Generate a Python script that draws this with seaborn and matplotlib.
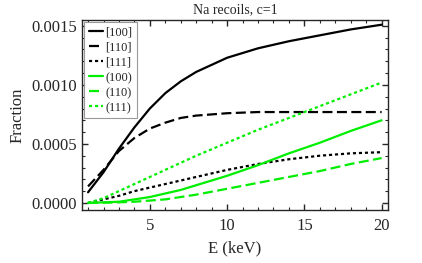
import matplotlib
matplotlib.use("Agg")
import matplotlib.pyplot as plt
import seaborn as sns
import pandas as pd
from matplotlib.ticker import MultipleLocator

# energies (keV) and fractions
energy = [1, 2, 3, 4, 5, 6, 7, 8, 10, 12, 14, 16, 18, 20]
na_100 = [0.00009, 0.00026, 0.00046, 0.00064, 0.00080, 0.00093, 0.00103, 0.00111, 0.00123, 0.00131, 0.00137, 0.00142, 0.00147, 0.00151]
na_110 = [0.00014, 0.00028, 0.00044, 0.00055, 0.00063, 0.00068, 0.00072, 0.00074, 0.00076, 0.00077, 0.00077, 0.00077, 0.00077, 0.00077]
na_111 = [0.0, 0.00003, 0.00006, 0.00010, 0.00013, 0.00016, 0.00019, 0.00022, 0.00028, 0.00033, 0.00037, 0.00040, 0.00042, 0.00043]
pl_100 = [0.0, 0.000005, 0.00001, 0.00003, 0.00005, 0.00008, 0.00011, 0.00015, 0.00023, 0.00032, 0.00042, 0.00051, 0.00061, 0.00070]
pl_110 = [0.0, 0.000002, 0.000005, 0.00001, 0.00002, 0.00003, 0.00005, 0.00007, 0.00012, 0.00017, 0.00022, 0.00027, 0.00033, 0.00038]
pl_111 = [0.0, 0.00004, 0.00010, 0.00016, 0.00022, 0.00028, 0.00034, 0.00040, 0.00051, 0.00062, 0.00072, 0.00082, 0.00092, 0.00102]

labels = ["[100]", "[110]", "[111]", "(100)", "(110)", "(111)"]
series = [na_100, na_110, na_111, pl_100, pl_110, pl_111]
colors = ["black", "black", "black", "#00ee00", "#00ee00", "#00ee00"]
styles = ["-", (0, (4.5, 2)), (0, (1.4, 1.3)), "-", (0, (4.5, 2)), (0, (1.4, 1.3))]

sns.set_style("ticks")
plt.rcParams["font.family"] = ["Liberation Serif", "DejaVu Serif"]

fig = plt.figure(figsize=(4.22, 2.63), dpi=100)
ax = fig.add_axes([0.194, 0.2015, 0.725, 0.7225])

for lab, vals, c, ls in zip(labels, series, colors, styles):
    df = pd.DataFrame({"E": energy, "F": vals})
    sns.lineplot(data=df, x="E", y="F", ax=ax, color=c, linestyle=ls,
                 linewidth=1.6, label=lab)

ax.set_xlim(0.6, 20.4)
ax.set_ylim(-0.00006, 0.00155)
ax.xaxis.set_major_locator(MultipleLocator(5))
ax.xaxis.set_minor_locator(MultipleLocator(1))
ax.yaxis.set_major_locator(MultipleLocator(0.0005))
ax.yaxis.set_minor_locator(MultipleLocator(0.0001))
ax.yaxis.set_major_formatter(matplotlib.ticker.FormatStrFormatter("%.4f"))
ax.tick_params(which="both", direction="in", top=True, right=True, labelsize=12)
ax.tick_params(axis="x", pad=6)
ax.tick_params(which="major", length=4, width=1)
ax.tick_params(which="minor", length=2, width=0.8)
for s in ax.spines.values():
    s.set_linewidth(1.0)

ax.set_title("Na recoils, c=1", fontsize=10, pad=5)
ax.set_xlabel("E (keV)", fontsize=12)
ax.set_ylabel("Fraction", fontsize=12)

leg = ax.legend(loc="upper left", fontsize=9, handlelength=1.15, handletextpad=0.2,
                labelspacing=0.24, borderpad=0.35, borderaxespad=0.2,
                fancybox=False, framealpha=1)
leg.get_frame().set_edgecolor("#999999")
leg.get_frame().set_linewidth(0.8)

plt.savefig("out.png", dpi=100)
